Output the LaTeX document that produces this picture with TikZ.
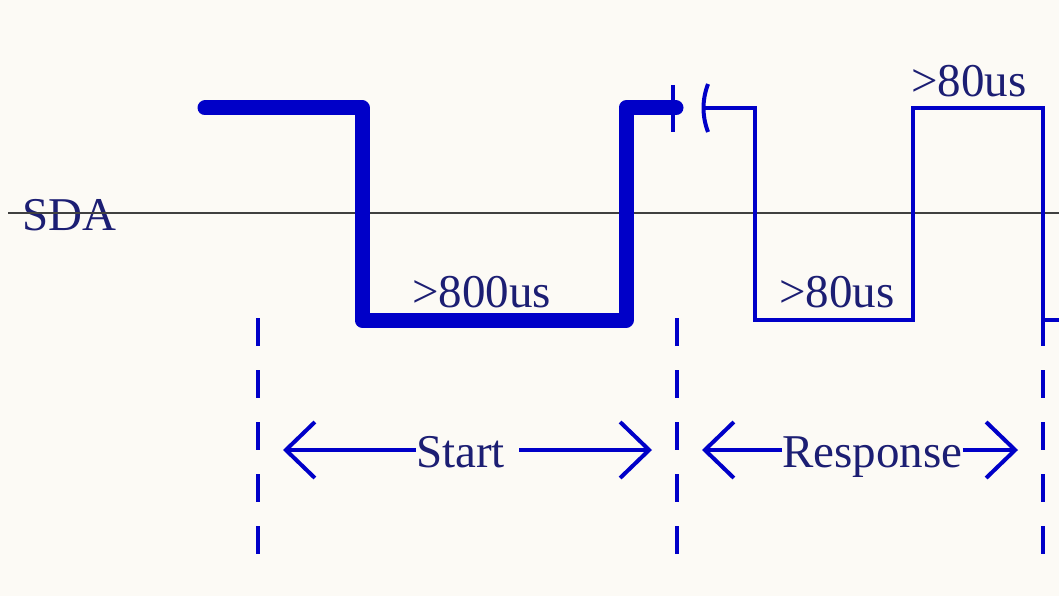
\documentclass[tikz,border=0pt]{standalone}
\usepackage{fontspec}
\setmainfont{Liberation Serif}
\usetikzlibrary{arrows.meta}
\definecolor{sigblue}{RGB}{0,0,200}
\definecolor{txtblue}{RGB}{28,30,115}
\definecolor{paper}{RGB}{252,250,245}
\tikzset{
  lbl/.style={anchor=base west,inner sep=0pt,text=txtblue,font=\fontsize{47}{51}\selectfont},
  dimarrow/.style={sigblue,line width=4pt,-{Straight Barb[length=29pt,width=56pt]}},
  bound/.style={sigblue,line width=4pt,dash pattern=on 28pt off 24pt},
}
\begin{document}
\begin{tikzpicture}[x=1pt,y=-1pt]
\fill[paper] (0,0) rectangle (1059,596);
\useasboundingbox (0,0) rectangle (1059,596);
% signal name and its reference level
\node[lbl] (sda) at (22,230) {SDA};
\draw[black!75,line width=1.5pt] (8,213) -- (1059,213);
% host start pulse (thick), then the break mark
\draw[sigblue,line width=15pt,line cap=round,line join=round]
  (205,108) -- (362,108) -- (362,320) -- (626,320) -- (626,108) -- (676,108);
\draw[sigblue,line width=4pt] (673,85) -- (673,132);
\draw[sigblue,line width=4pt] (708,84) .. controls (702,100) and (702,116) .. (708,132);
% sensor response (thin)
\draw[sigblue,line width=4pt]
  (704,108) -- (755,108) -- (755,320) -- (913,320) -- (913,108) -- (1043,108) -- (1043,320) -- (1062,320);
% phase boundaries
\foreach \bx in {258,677,1043}{
  \draw[bound] (\bx,318) -- (\bx,556);
}
% timing labels
\node[lbl] (t800) at (412,307) {>800us};
\node[lbl] (t80lo) at (779,307) {>80us};
\node[lbl] (t80hi) at (911,97) {>80us};
% phase arrows
\node[lbl] (start) at (416,467) {Start};
\node[lbl] (resp) at (782,467) {Response};
\coordinate (sL) at (283,450);
\coordinate (sR) at (652,450);
\coordinate (rL) at (702,450);
\coordinate (rR) at (1018,450);
\coordinate (sgap) at ([xshift=14pt]start.east);
\draw[dimarrow] (start.west |- sL) -- (sL);
\draw[dimarrow] (sgap |- sR) -- (sR);
\draw[dimarrow] (resp.west |- rL) -- (rL);
\draw[dimarrow] (resp.east |- rR) -- (rR);
\end{tikzpicture}
\end{document}
